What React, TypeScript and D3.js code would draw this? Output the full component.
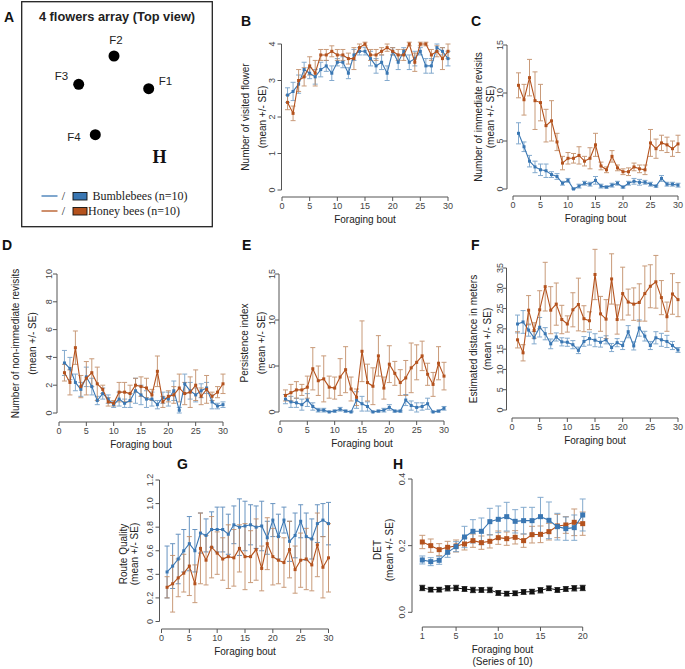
import React from 'react';
import * as d3 from 'd3';

// ---------- data ----------
const BOUTS = [1,2,3,4,5,6,7,8,9,10,11,12,13,14,15,16,17,18,19,20,21,22,23,24,25,26,27,28,29,30];
const SERIES10 = [1,2,3,4,5,6,7,8,9,10,11,12,13,14,15,16,17,18,19,20];
const X_TICKS_30 = [0,5,10,15,20,25,30];
const X_TICKS_H = [1,5,10,15,20];

// B: number of visited flowers
const B_BUMBLE = [2.6,2.7,2.9,3.3,3.2,3.1,3.3,3.4,3.2,3.5,3.5,3.2,3.7,3.8,3.8,3.6,3.4,3.5,3.2,3.8,3.5,3.8,3.5,3.6,3.8,3.4,3.4,3.9,3.8,3.6];
const B_BUMBLE_SE = [0.2,0.25,0.25,0.2,0.15,0.2,0.2,0.15,0.2,0.1,0.15,0.15,0.15,0.1,0.1,0.2,0.2,0.2,0.2,0.1,0.2,0.1,0.2,0.2,0.1,0.2,0.2,0.1,0.1,0.2];
const B_HONEY = [2.4,2.1,3.0,3.1,3.4,3.2,3.7,3.7,3.8,3.7,3.7,3.6,3.6,3.9,4.0,3.7,3.7,3.8,3.9,3.8,3.7,3.7,4.0,3.5,4.0,4.0,3.7,3.8,3.6,3.8];
const B_HONEY_SE = [0.2,0.2,0.3,0.25,0.25,0.35,0.15,0.15,0.15,0.15,0.15,0.15,0.3,0.1,0.05,0.15,0.15,0.1,0.1,0.1,0.15,0.15,0.05,0.25,0.05,0.05,0.15,0.15,0.3,0.2];
const B_Y_TICKS = [0,1,2,3,4];

// C: immediate revisits
const C_BUMBLE = [5.8,4.4,2.9,2.3,2.0,1.9,1.5,1.3,0.6,0.9,0.0,0.3,0.6,0.5,0.9,0.3,0.2,0.4,0.6,0.2,0.6,0.8,0.7,0.7,0.5,0.3,1.1,0.5,0.5,0.4];
const C_BUMBLE_SE = [1.1,0.5,0.6,0.6,0.6,0.7,0.3,0.3,0.2,0.2,0.1,0.2,0.2,0.2,0.4,0.2,0.1,0.2,0.2,0.1,0.2,0.3,0.3,0.2,0.2,0.1,0.3,0.2,0.2,0.2];
const C_HONEY = [10.8,9.3,11.6,9.2,9.0,6.6,7.1,4.9,2.7,3.2,3.2,3.5,2.9,3.2,4.6,2.4,2.0,3.4,2.2,1.8,1.8,2.3,2.1,2.0,4.8,4.2,4.8,4.6,4.2,4.7];
const C_HONEY_SE = [1.3,1.6,1.9,3.0,1.9,1.7,2.1,0.9,0.7,0.6,0.5,0.9,0.5,1.1,1.2,0.4,0.3,0.6,0.3,0.3,0.4,0.4,0.4,0.5,1.4,1.0,0.8,0.8,0.8,0.9];
const C_Y_TICKS = [0,5,10,15];

// D: non-immediate revisits
const D_BUMBLE = [3.6,3.2,2.2,1.7,2.6,1.9,0.9,1.4,1.0,0.6,1.0,0.7,0.9,1.6,1.3,1.0,1.0,0.6,1.1,1.0,1.6,0.2,2.1,1.6,1.3,1.6,1.8,0.8,0.5,0.6];
const D_BUMBLE_SE = [0.9,0.8,0.6,0.5,0.7,0.6,0.3,0.4,0.3,0.2,0.5,0.3,0.5,0.9,0.7,0.6,0.5,0.3,0.4,0.5,0.7,0.2,0.7,0.6,0.5,0.5,0.4,0.5,0.2,0.2];
const D_HONEY = [2.9,2.2,4.7,1.9,2.5,2.9,2.1,1.7,0.8,0.7,1.5,1.5,1.4,2.0,1.9,1.8,1.3,3.0,0.8,1.2,1.3,1.8,1.4,1.5,2.0,1.2,1.7,1.2,1.5,2.1];
const D_HONEY_SE = [0.6,0.9,1.2,0.8,1.2,1.0,1.2,0.3,0.3,0.2,0.7,0.7,0.6,0.5,0.7,0.7,0.4,1.1,0.4,0.4,0.6,1.0,0.8,1.1,1.1,0.6,1.0,0.3,0.4,0.7];
const D_Y_TICKS = [0,2,4,6,8,10];

// E: persistence index
const E_BUMBLE = [1.4,1.1,1.0,0.8,1.3,0.6,0.2,0.2,0.0,0.1,0.3,0.1,0.0,1.3,0.9,0.6,0.0,0.1,0.2,0.5,0.1,0.1,1.3,0.7,0.5,0.6,0.9,0.0,0.1,0.4];
const E_BUMBLE_SE = [0.5,0.6,0.5,0.6,0.7,0.4,0.2,0.2,0.1,0.1,0.2,0.1,0.1,0.9,0.8,0.5,0.1,0.1,0.2,0.3,0.1,0.1,0.6,0.5,0.5,0.4,0.6,0.1,0.1,0.2];
const E_HONEY = [1.8,2.1,2.4,2.4,2.7,4.7,3.4,3.6,2.7,2.6,3.8,4.6,2.5,1.6,6.6,3.2,2.8,6.1,2.6,5.2,4.2,3.2,3.7,4.8,5.4,6.1,4.1,3.0,5.3,3.9];
const E_HONEY_SE = [0.6,0.9,0.9,0.6,1.2,2.3,1.6,2.5,1.2,1.2,2.0,2.5,1.3,0.9,3.3,2.0,2.0,2.2,1.2,2.0,1.3,1.4,1.9,2.7,1.9,1.6,1.2,1.3,1.8,1.5];
const E_Y_TICKS = [0,5,10,15];

// F: estimated distance
const F_BUMBLE = [21.2,21.7,19.7,17.8,20.4,18.8,16.3,18.0,16.8,16.7,16.1,14.7,16.9,17.6,17.2,16.7,17.3,15.4,16.6,15.9,19.3,15.8,20.2,18.2,15.9,17.8,17.3,16.9,15.9,14.8];
const F_BUMBLE_SE = [2.2,2.8,1.5,1.5,2.4,1.5,1.2,1.0,1.0,1.0,1.0,0.8,1.2,1.6,1.6,1.2,1.0,1.0,1.0,1.0,1.5,1.0,2.0,1.2,1.0,1.5,1.6,1.5,1.0,0.6];
const F_HONEY = [17.3,14.1,24.6,19.6,24.7,30.4,24.6,26.1,22.3,21.2,24.7,26.0,22.5,22.0,33.4,23.7,22.4,32.3,22.3,28.7,26.6,26.1,26.5,28.7,30.5,31.6,27.7,23.0,28.6,27.2];
const F_HONEY_SE = [2.0,2.0,3.6,1.9,4.7,6.0,5.8,5.2,3.5,2.0,4.2,6.5,3.2,2.2,6.2,4.3,4.8,6.2,3.6,6.5,3.2,4.0,4.6,6.8,5.3,6.5,4.2,3.6,5.0,4.2];
const F_Y_TICKS = [0,5,10,15,20,25,30,35];

// G: route quality
const G_BUMBLE = [0.42,0.47,0.53,0.60,0.66,0.60,0.75,0.73,0.78,0.78,0.78,0.74,0.82,0.80,0.81,0.82,0.80,0.81,0.71,0.86,0.72,0.86,0.68,0.73,0.85,0.72,0.70,0.83,0.86,0.83];
const G_BUMBLE_SE = [0.22,0.19,0.21,0.18,0.23,0.18,0.17,0.14,0.15,0.19,0.19,0.17,0.16,0.24,0.21,0.17,0.18,0.21,0.14,0.14,0.19,0.11,0.17,0.19,0.14,0.20,0.17,0.16,0.14,0.18];
const G_HONEY = [0.29,0.32,0.37,0.41,0.47,0.32,0.62,0.52,0.63,0.58,0.53,0.55,0.54,0.62,0.55,0.55,0.61,0.45,0.66,0.55,0.52,0.50,0.61,0.44,0.52,0.53,0.48,0.65,0.46,0.54];
const G_HONEY_SE = [0.09,0.24,0.16,0.16,0.25,0.16,0.30,0.21,0.26,0.18,0.18,0.27,0.24,0.20,0.28,0.22,0.26,0.19,0.22,0.24,0.20,0.21,0.24,0.20,0.23,0.26,0.22,0.27,0.26,0.29];
const G_Y_TICKS = [0,0.2,0.4,0.6,0.8,1.0,1.2];
const G_Y_LABELS = ['0','0.2','0.4','0.6','0.8','1.0','1.2'];

// H: DET
const H_BUMBLE = [0.157,0.152,0.156,0.18,0.197,0.226,0.243,0.243,0.272,0.279,0.287,0.273,0.275,0.275,0.287,0.276,0.257,0.251,0.254,0.292];
const H_BUMBLE_SE = [0.012,0.012,0.012,0.015,0.015,0.032,0.035,0.04,0.04,0.04,0.043,0.035,0.04,0.04,0.058,0.055,0.04,0.035,0.038,0.048];
const H_HONEY = [0.211,0.2,0.188,0.195,0.199,0.205,0.215,0.209,0.213,0.224,0.221,0.225,0.215,0.233,0.234,0.242,0.259,0.262,0.27,0.266];
const H_HONEY_SE = [0.02,0.02,0.018,0.018,0.018,0.018,0.02,0.02,0.02,0.02,0.02,0.02,0.02,0.025,0.025,0.025,0.035,0.025,0.04,0.035];
const H_RANDOM = [0.073,0.068,0.068,0.072,0.073,0.07,0.067,0.067,0.067,0.058,0.056,0.057,0.061,0.062,0.066,0.072,0.067,0.07,0.072,0.073];
const H_RANDOM_SE = [0.008,0.007,0.007,0.008,0.008,0.007,0.008,0.007,0.008,0.007,0.007,0.007,0.007,0.007,0.008,0.007,0.007,0.007,0.008,0.008];
const H_Y_TICKS = [0,0.2,0.4];
const H_Y_LABELS = ['0.0','0.2','0.4'];

// ---------- styles ----------
const BLUE = '#3a77b3';
const BROWN = '#b4521d';
const BLUE_ERR = '#6f9cc6';
const BROWN_ERR = '#c08a63';
const AXIS = '#555';
const TXT = '#222';
const SANS = '"Liberation Sans", Arial, Helvetica, sans-serif';
const SERIF = '"Liberation Serif", "Times New Roman", serif';

type Series = { xs: number[]; mean: number[]; se: number[]; color: string; err: string; m: number; cap: number; lw: number };
type Cfg = {
  letter: string; lx: number; ly: number;
  axisX: number; x0: number; x1: number; xDom: [number, number];
  yTop: number; yBot: number; yMax: number; xAxisY: number;
  yTicks: number[]; yLabels?: string[]; xTicks: number[];
  tickLX: number; t1: string; t1x: number; t2: string; t2x: number;
  titleY?: number; xTitle2?: string;
};

function Panel({ cfg, series }: { cfg: Cfg; series: Series[] }) {
  const x = d3.scaleLinear().domain(cfg.xDom).range([cfg.x0, cfg.x1]);
  const y = d3.scaleLinear().domain([0, cfg.yMax]).range([cfg.yBot, cfg.yTop]);
  const yMid = cfg.titleY ?? (cfg.yTop + cfg.yBot) / 2;
  const xMid = (x(cfg.xTicks[0]) + x(cfg.xTicks[cfg.xTicks.length - 1])) / 2;
  return (
    <g>
      <text x={cfg.lx} y={cfg.ly} fontFamily={SANS} fontWeight="bold" fontSize={14} fill="#111">{cfg.letter}</text>
      {/* y axis */}
      <line x1={cfg.axisX} x2={cfg.axisX} y1={y(0)} y2={y(cfg.yMax)} stroke={AXIS} strokeWidth={1} />
      {cfg.yTicks.map((t, i) => (
        <g key={'yt' + i}>
          <line x1={cfg.axisX - 4} x2={cfg.axisX} y1={y(t)} y2={y(t)} stroke={AXIS} />
          <text transform={`translate(${cfg.tickLX},${y(t)}) rotate(-90)`} textAnchor="middle" dy="0.35em"
            fontFamily={SANS} fontSize={9} fill="#444">{cfg.yLabels ? cfg.yLabels[i] : String(t)}</text>
        </g>
      ))}
      {/* x axis */}
      <line x1={x(cfg.xTicks[0])} x2={x(cfg.xTicks[cfg.xTicks.length - 1])} y1={cfg.xAxisY} y2={cfg.xAxisY} stroke={AXIS} />
      {cfg.xTicks.map((t, i) => (
        <g key={'xt' + i}>
          <line x1={x(t)} x2={x(t)} y1={cfg.xAxisY} y2={cfg.xAxisY + 4} stroke={AXIS} />
          <text x={x(t)} y={cfg.xAxisY + 12} textAnchor="middle" fontFamily={SANS} fontSize={9} fill="#444">{t}</text>
        </g>
      ))}
      <text x={xMid} y={cfg.xAxisY + 26} textAnchor="middle" fontFamily={SANS} fontSize={10} fill={TXT}>Foraging bout</text>
      {cfg.xTitle2 && (
        <text x={xMid} y={cfg.xAxisY + 38} textAnchor="middle" fontFamily={SANS} fontSize={10} fill={TXT}>{cfg.xTitle2}</text>
      )}
      <text transform={`translate(${cfg.t1x},${yMid}) rotate(-90)`} textAnchor="middle" dy="0.35em" fontFamily={SANS} fontSize={10} fill={TXT}>{cfg.t1}</text>
      <text transform={`translate(${cfg.t2x},${yMid}) rotate(-90)`} textAnchor="middle" dy="0.35em" fontFamily={SANS} fontSize={10} fill={TXT}>{cfg.t2}</text>
      {/* error bars */}
      {series.map((s, si) => (
        <g key={'e' + si} stroke={s.err} strokeWidth={1} opacity={0.85}>
          {s.xs.map((b, i) => {
            const px = x(b);
            const lo = y(Math.max(0, s.mean[i] - s.se[i]));
            const hi = y(s.mean[i] + s.se[i]);
            return (
              <g key={i}>
                <line x1={px} x2={px} y1={lo} y2={hi} />
                <line x1={px - s.cap} x2={px + s.cap} y1={hi} y2={hi} />
                <line x1={px - s.cap} x2={px + s.cap} y1={lo} y2={lo} />
              </g>
            );
          })}
        </g>
      ))}
      {/* lines + markers */}
      {series.map((s, si) => {
        const pts: [number, number][] = s.xs.map((b, i) => [x(b), y(s.mean[i])]);
        const path = d3.line()(pts) || '';
        return (
          <g key={'l' + si}>
            <path d={path} fill="none" stroke={s.color} strokeWidth={s.lw} />
            {pts.map((p, i) => (
              <rect key={i} x={p[0] - s.m / 2} y={p[1] - s.m / 2} width={s.m} height={s.m} fill={s.color} />
            ))}
          </g>
        );
      })}
    </g>
  );
}

function mk(xs: number[], mean: number[], se: number[], color: string, err: string, m = 3, cap = 2.5, lw = 1.1): Series {
  return { xs, mean, se, color, err, m, cap, lw };
}

const PANELS: { cfg: Cfg; series: Series[] }[] = [
  {
    cfg: { letter: 'B', lx: 241, ly: 26, axisX: 281.5, x0: 282, x1: 448, xDom: [0, 30], yTop: 44, yBot: 190, yMax: 4, xAxisY: 197,
      yTicks: B_Y_TICKS, xTicks: X_TICKS_30, tickLX: 272, t1: 'Number of visited flower', t1x: 245, t2: '(mean +/- SE)', t2x: 262 },
    series: [mk(BOUTS, B_BUMBLE, B_BUMBLE_SE, BLUE, BLUE_ERR), mk(BOUTS, B_HONEY, B_HONEY_SE, BROWN, BROWN_ERR)],
  },
  {
    cfg: { letter: 'C', lx: 471, ly: 26, axisX: 507, x0: 513, x1: 678, xDom: [0, 30], yTop: 45, yBot: 189, yMax: 15, xAxisY: 196,
      yTicks: C_Y_TICKS, xTicks: X_TICKS_30, tickLX: 500, t1: 'Number of immediate revisits', t1x: 478, t2: '(mean +/- SE)', t2x: 490 },
    series: [mk(BOUTS, C_BUMBLE, C_BUMBLE_SE, BLUE, BLUE_ERR), mk(BOUTS, C_HONEY, C_HONEY_SE, BROWN, BROWN_ERR)],
  },
  {
    cfg: { letter: 'D', lx: 2, ly: 250, axisX: 57, x0: 59, x1: 223, xDom: [0, 30], yTop: 274, yBot: 413, yMax: 10, xAxisY: 422,
      yTicks: D_Y_TICKS, xTicks: X_TICKS_30, tickLX: 48.5, t1: 'Number of non-immediate revisits', t1x: 15, t2: '(mean +/- SE)', t2x: 32 },
    series: [mk(BOUTS, D_BUMBLE, D_BUMBLE_SE, BLUE, BLUE_ERR), mk(BOUTS, D_HONEY, D_HONEY_SE, BROWN, BROWN_ERR)],
  },
  {
    cfg: { letter: 'E', lx: 242, ly: 250, axisX: 279, x0: 280, x1: 444, xDom: [0, 30], yTop: 274, yBot: 412, yMax: 15, xAxisY: 421,
      yTicks: E_Y_TICKS, xTicks: X_TICKS_30, tickLX: 272, t1: 'Persistence index', t1x: 244, t2: '(mean +/- SE)', t2x: 261 },
    series: [mk(BOUTS, E_BUMBLE, E_BUMBLE_SE, BLUE, BLUE_ERR), mk(BOUTS, E_HONEY, E_HONEY_SE, BROWN, BROWN_ERR)],
  },
  {
    cfg: { letter: 'F', lx: 471, ly: 250, axisX: 506.5, x0: 512, x1: 678, xDom: [0, 30], yTop: 268, yBot: 410, yMax: 35, xAxisY: 418,
      yTicks: F_Y_TICKS, xTicks: X_TICKS_30, tickLX: 500, t1: 'Estimated distance in meters', t1x: 473, t2: '(mean +/- SE)', t2x: 487 },
    series: [mk(BOUTS, F_BUMBLE, F_BUMBLE_SE, BLUE, BLUE_ERR), mk(BOUTS, F_HONEY, F_HONEY_SE, BROWN, BROWN_ERR)],
  },
  {
    cfg: { letter: 'G', lx: 177, ly: 469, axisX: 159.5, x0: 161.5, x1: 328.5, xDom: [0, 30], yTop: 480, yBot: 621.5, yMax: 1.2, xAxisY: 629,
      yTicks: G_Y_TICKS, yLabels: G_Y_LABELS, xTicks: X_TICKS_30, tickLX: 150, t1: 'Route Quality', t1x: 123.5, t2: '(mean +/- SE)', t2x: 134.5, titleY: 554 },
    series: [mk(BOUTS, G_BUMBLE, G_BUMBLE_SE, BLUE, '#4f82b6'), mk(BOUTS, G_HONEY, G_HONEY_SE, BROWN, BROWN_ERR)],
  },
  {
    cfg: { letter: 'H', lx: 393, ly: 469, axisX: 412, x0: 422.3, x1: 582.7, xDom: [1, 20], yTop: 479, yBot: 612.3, yMax: 0.4, xAxisY: 627,
      yTicks: H_Y_TICKS, yLabels: H_Y_LABELS, xTicks: X_TICKS_H, tickLX: 402, t1: 'DET', t1x: 377, t2: '(mean +/- SE)', t2x: 389, titleY: 550, xTitle2: '(Series of 10)' },
    series: [
      mk(SERIES10, H_RANDOM, H_RANDOM_SE, '#111', '#111', 5, 3, 1),
      mk(SERIES10, H_HONEY, H_HONEY_SE, BROWN, BROWN_ERR, 5, 3, 1.1),
      mk(SERIES10, H_BUMBLE, H_BUMBLE_SE, BLUE, BLUE_ERR, 5, 3, 1.1),
    ],
  },
];

const FLOWERS = [
  { name: 'F1', cx: 148.7, cy: 88.7, lx: 165.5, ly: 84.5 },
  { name: 'F2', cx: 114, cy: 56, lx: 116, ly: 44 },
  { name: 'F3', cx: 78.7, cy: 84.3, lx: 61.5, ly: 80 },
  { name: 'F4', cx: 95.3, cy: 134.7, lx: 74, ly: 140.5 },
];

function PanelA() {
  return (
    <g>
      <text x={4} y={22} fontFamily={SANS} fontWeight="bold" fontSize={14} fill="#111">A</text>
      <rect x={21.7} y={1.7} width={190.6} height={225} fill="none" stroke="#222" strokeWidth={1.3} />
      <text x={117} y={21} textAnchor="middle" fontFamily={SANS} fontWeight="bold" fontSize={12.8} fill="#222">4 flowers array (Top view)</text>
      {FLOWERS.map((f) => (
        <g key={f.name}>
          <circle cx={f.cx} cy={f.cy} r={5.5} fill="#000" />
          <text x={f.lx} y={f.ly} textAnchor="middle" fontFamily={SANS} fontSize={11.5} fill="#222">{f.name}</text>
        </g>
      ))}
      <text x={159.5} y={163} textAnchor="middle" fontFamily={SERIF} fontWeight="bold" fontSize={18} fill="#111">H</text>
      <line x1={41.5} x2={57.5} y1={196} y2={196} stroke={BLUE} strokeWidth={1.3} />
      <text x={63.5} y={200} textAnchor="middle" fontFamily={SERIF} fontSize={12} fill="#222">/</text>
      <rect x={73} y={192.5} width={14} height={7.5} fill={BLUE} stroke="#111" strokeWidth={0.9} />
      <text x={92.5} y={200} fontFamily={SERIF} fontSize={12} fill="#222">Bumblebees (n=10)</text>
      <line x1={41.5} x2={57.5} y1={211} y2={211} stroke={BROWN} strokeWidth={1.3} />
      <text x={63.5} y={215} textAnchor="middle" fontFamily={SERIF} fontSize={12} fill="#222">/</text>
      <rect x={73} y={207.5} width={14} height={7.5} fill={BROWN} stroke="#111" strokeWidth={0.9} />
      <text x={88} y={215} fontFamily={SERIF} fontSize={12} fill="#222">Honey bees (n=10)</text>
    </g>
  );
}

export default function App() {
  return (
    <svg width={685} height={669} style={{ position: 'absolute', left: 0, top: 0, background: '#fff' }}>
      <rect width={685} height={669} fill="#fff" />
      <PanelA />
      {PANELS.map((p, i) => (
        <Panel key={i} cfg={p.cfg} series={p.series} />
      ))}
    </svg>
  );
}
